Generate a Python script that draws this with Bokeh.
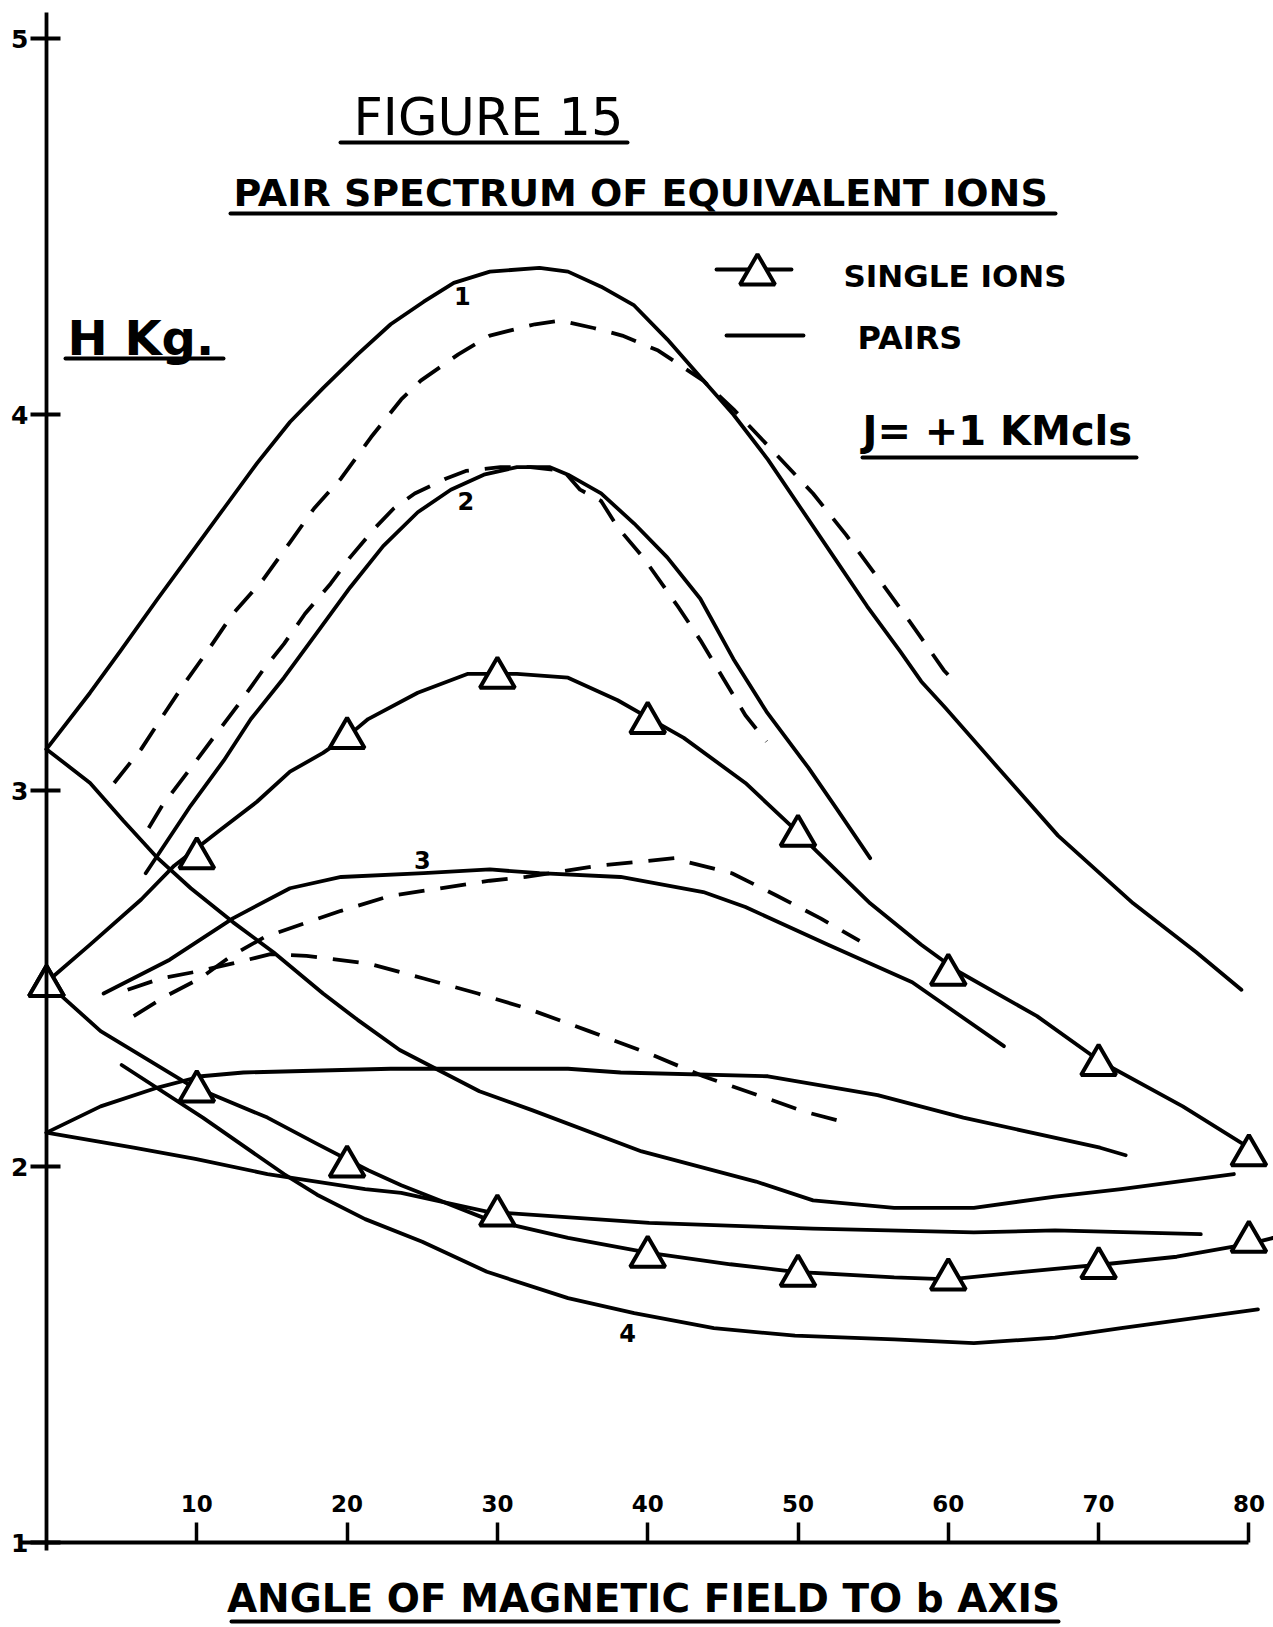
from bokeh.plotting import figure
from bokeh.models import Range1d, LinearAxis, FixedTicker, Label
from bokeh.embed import file_html
from bokeh.resources import INLINE

# ---------------- data ----------------
angle_ticks = [10, 20, 30, 40, 50, 60, 70, 80]
field_ticks = [1, 2, 3, 4, 5]

# single ions: triangle points
single_angles = [0, 10, 20, 30, 40, 50, 60, 70, 80]
single_upper = [2.48, 2.82, 3.14, 3.30, 3.18, 2.88, 2.51, 2.27, 2.03]
single_lower = [2.48, 2.20, 2.00, 1.87, 1.76, 1.71, 1.70, 1.73, 1.80]

# single ions: hand-drawn curves through the triangles
su_angle = [0, 2.9, 6.3, 8.5, 11.4, 14.0, 16.2, 18.4, 20.2, 21.4, 24.7, 28.0, 31.3, 34.7,
            38.0, 40.2, 42.4, 46.5, 49.7, 51.2, 54.8, 58.2, 60.6, 65.9, 70.1, 75.6, 80.0]
su_field = [2.49, 2.59, 2.71, 2.80, 2.89, 2.97, 3.05, 3.10, 3.15, 3.19, 3.26, 3.31, 3.31, 3.30,
            3.24, 3.19, 3.14, 3.02, 2.90, 2.84, 2.70, 2.59, 2.52, 2.40, 2.28, 2.16, 2.05]
sl_angle = [0, 1.1, 3.6, 6.9, 9.4, 11.1, 14.7, 18.0, 21.4, 23.6, 29.3, 34.7, 40.1, 45.5,
            49.8, 56.4, 60.1, 65.0, 70.4, 75.2, 80.1, 81.6]
sl_field = [2.49, 2.45, 2.36, 2.28, 2.22, 2.19, 2.13, 2.06, 1.99, 1.95, 1.86, 1.81, 1.77, 1.74,
            1.72, 1.705, 1.70, 1.72, 1.74, 1.76, 1.795, 1.81]

# pairs, solid curves
p1_angle = [0, 2.9, 4.9, 7.4, 9.6, 11.8, 14.0, 16.2, 18.4, 20.7, 22.9, 25.1, 27.1, 29.5, 32.8,
            34.7, 36.9, 39.1, 41.3, 43.5, 45.7, 48.0, 50.2, 52.4, 54.6, 56.8, 58.2, 59.8, 63.1,
            67.3, 72.3, 76.5, 79.5]
p1_field = [3.11, 3.26, 3.37, 3.51, 3.63, 3.75, 3.87, 3.98, 4.07, 4.16, 4.24, 4.30, 4.35, 4.38, 4.39,
            4.38, 4.34, 4.29, 4.20, 4.10, 4.00, 3.88, 3.75, 3.62, 3.49, 3.37, 3.29, 3.22, 3.07,
            2.88, 2.70, 2.57, 2.47]
p2_angle = [6.6, 9.6, 11.8, 13.6, 15.8, 18.0, 20.2, 22.4, 24.7, 26.9, 29.1, 31.3, 33.5, 34.7,
            36.9, 39.1, 41.3, 43.5, 45.7, 47.9, 50.7, 52.6, 54.8]
p2_field = [2.78, 2.96, 3.08, 3.19, 3.30, 3.42, 3.54, 3.65, 3.74, 3.80, 3.84, 3.86, 3.86, 3.84,
            3.79, 3.71, 3.62, 3.51, 3.35, 3.21, 3.06, 2.95, 2.82]
p3_angle = [3.8, 8.2, 12.4, 16.2, 19.6, 25.1, 29.5, 32.8, 38.2, 43.7, 46.5, 52.0, 54.8, 57.6, 63.7]
p3_field = [2.46, 2.55, 2.66, 2.74, 2.77, 2.78, 2.79, 2.78, 2.77, 2.73, 2.69, 2.59, 2.54, 2.49, 2.32]
p4_angle = [5.0, 10.4, 15.8, 18.0, 21.2, 25.0, 29.3, 34.7, 39.1, 44.4, 49.8, 56.4, 61.7, 67.1,
            71.5, 80.6]
p4_field = [2.27, 2.13, 1.98, 1.925, 1.86, 1.80, 1.72, 1.65, 1.61, 1.57, 1.55, 1.54, 1.53, 1.545,
            1.57, 1.62]
pa_angle = [0, 2.9, 5.1, 7.4, 9.6, 12.4, 15.1, 18.4, 20.7, 23.5, 28.8, 32.3, 39.6, 47.2, 51.0,
            56.4, 61.7, 67.1, 71.5, 79.0]
pa_field = [3.11, 3.02, 2.92, 2.82, 2.74, 2.65, 2.57, 2.46, 2.39, 2.31, 2.20, 2.15, 2.04, 1.96, 1.91,
            1.89, 1.89, 1.92, 1.94, 1.98]
pr_angle = [0, 3.6, 7.4, 10.3, 13.1, 22.9, 34.7, 38.2, 48.0, 55.3, 61.0, 70.1, 71.8]
pr_field = [2.09, 2.16, 2.21, 2.24, 2.25, 2.26, 2.26, 2.25, 2.24, 2.19, 2.13, 2.05, 2.03]
pf_angle = [0, 5.8, 9.9, 14.7, 21.2, 23.6, 29.3, 40.1, 51.0, 61.7, 67.1, 76.8]
pf_field = [2.09, 2.05, 2.02, 1.98, 1.94, 1.93, 1.88, 1.85, 1.835, 1.825, 1.83, 1.82]

# pairs, dashed curves
d1_angle = [4.5, 6.3, 7.6, 9.1, 10.7, 12.4, 14.4, 16.2, 17.8, 19.6, 21.6, 23.6, 24.9, 27.4, 29.5,
            32.5, 34.2, 36.4, 38.3, 40.7, 43.7, 45.8, 48.4, 51.0, 53.2, 55.6, 57.6, 59.7, 60.4]
d1_field = [3.02, 3.11, 3.19, 3.28, 3.37, 3.47, 3.56, 3.66, 3.75, 3.83, 3.94, 4.04, 4.09, 4.16, 4.21,
            4.24, 4.25, 4.23, 4.21, 4.17, 4.09, 4.01, 3.90, 3.79, 3.68, 3.55, 3.44, 3.32, 3.29]
d2_angle = [6.8, 7.7, 9.6, 11.1, 12.8, 14.4, 15.8, 17.2, 18.9, 20.2, 21.9, 23.1, 24.5, 26.6, 27.9,
            30.2, 32.2, 34.4, 35.5, 36.9, 38.0, 39.7, 42.0, 43.5, 45.0, 46.5, 47.9]
d2_field = [2.90, 2.96, 3.06, 3.14, 3.23, 3.32, 3.39, 3.47, 3.55, 3.62, 3.70, 3.75, 3.79, 3.83, 3.85,
            3.86, 3.86, 3.85, 3.80, 3.77, 3.70, 3.62, 3.49, 3.40, 3.30, 3.20, 3.13]
d3_angle = [5.8, 7.8, 10.2, 12.3, 14.5, 17.4, 19.6, 22.9, 26.2, 29.5, 31.9, 36.7, 39.3, 41.8, 42.6,
            45.6, 48.6, 51.5, 54.1]
d3_field = [2.40, 2.45, 2.50, 2.56, 2.61, 2.65, 2.68, 2.72, 2.74, 2.76, 2.77, 2.80, 2.81, 2.82, 2.81,
            2.78, 2.72, 2.66, 2.60]
d4_angle = [5.4, 7.6, 10.2, 12.4, 14.9, 17.3, 21.4, 25.1, 28.7, 32.0, 36.1, 40.1, 43.7, 47.3, 50.5, 52.9]
d4_field = [2.47, 2.50, 2.52, 2.54, 2.565, 2.56, 2.54, 2.50, 2.46, 2.42, 2.36, 2.30, 2.24, 2.19, 2.145, 2.12]

curve_labels = ["1", "2", "3", "4"]
curve_label_angle = [27.66, 27.9, 25.0, 38.66]
curve_label_field = [4.315, 3.77, 2.814, 1.556]

# ---------------- page layout ----------------
W, H = 1273, 1627
PX0, PXD = 46.0, 15.03      # page x of angle 0, pixels per degree
PY1, PYK = 1542.0, 376.0    # page y of 1 kG, pixels per kG


def ax(X):
    return (X - PX0) / PXD


def vy(Y):
    return 1 + (PY1 - Y) / PYK


FONT = "DejaVu Sans"
INK = "black"

p = figure(width=W, height=H, x_range=Range1d(ax(0), ax(W)), y_range=Range1d(vy(H), vy(0)),
           output_backend="svg", toolbar_location=None,
           x_axis_location=None, y_axis_location=None, min_border=0,
           outline_line_color=None, background_fill_color="white", border_fill_color="white")
p.grid.visible = False

# axes drawn at angle 0 and field 1
yax = LinearAxis(fixed_location=0, ticker=FixedTicker(ticks=field_ticks), bounds=(0.98, 5.07))
yax.axis_line_width = 3.8
yax.axis_line_color = INK
yax.major_tick_in = 14
yax.major_tick_out = 16
yax.major_tick_line_width = 3.8
yax.major_tick_line_color = INK
yax.minor_tick_line_color = None
yax.major_label_text_font = FONT
yax.major_label_text_font_style = "bold"
yax.major_label_text_font_size = "25px"
yax.major_label_text_color = INK
yax.major_label_standoff = 2
p.add_layout(yax, "left")

xax = LinearAxis(fixed_location=1, ticker=FixedTicker(ticks=angle_ticks), bounds=(-1.7, 80))
xax.axis_line_width = 3.8
xax.axis_line_color = INK
xax.major_tick_in = 0
xax.major_tick_out = 20
xax.major_tick_line_width = 3.5
xax.major_tick_line_color = INK
xax.minor_tick_line_color = None
xax.major_label_text_font = FONT
xax.major_label_text_font_style = "bold"
xax.major_label_text_font_size = "23px"
xax.major_label_text_color = INK
xax.major_label_standoff = 11
p.add_layout(xax, "above")

LW = 3.8
solid = dict(line_color=INK, line_width=LW, line_cap="round", line_join="round")
dashed = dict(solid, line_dash="26 16", line_cap="butt")

for a, v in [(p1_angle, p1_field), (p2_angle, p2_field), (p3_angle, p3_field),
             (p4_angle, p4_field), (pa_angle, pa_field), (pr_angle, pr_field),
             (pf_angle, pf_field), (su_angle, su_field), (sl_angle, sl_field)]:
    p.line(a, v, **solid)

for a, v in [(d1_angle, d1_field), (d2_angle, d2_field), (d3_angle, d3_field), (d4_angle, d4_field)]:
    p.line(a, v, **dashed)

tri = dict(marker="triangle", size=35, fill_color="white", line_color=INK, line_width=4)
p.scatter(single_angles, single_upper, **tri)
p.scatter(single_angles, single_lower, **tri)

for t, a, v in zip(curve_labels, curve_label_angle, curve_label_field):
    p.add_layout(Label(x=a, y=v, text=t, text_align="center", text_baseline="middle",
                       text_font=FONT, text_font_style="bold", text_font_size="24px",
                       text_color=INK))

# key
p.line([ax(716), ax(791)], [vy(269), vy(269)], **solid)
p.scatter([ax(757)], [vy(274)], **tri)
p.line([ax(726), ax(803)], [vy(335), vy(335)], **solid)


def text(s, X, Y, size, style="bold", align="left"):
    p.add_layout(Label(x=ax(X), y=vy(Y), text=s, text_align=align, text_baseline="middle",
                       text_font=FONT, text_font_style=style, text_font_size=f"{size}px",
                       text_color=INK))


text("FIGURE 15", 353, 117, 51, style="normal")
text("PAIR SPECTRUM OF EQUIVALENT IONS", 233, 192, 38)
text("SINGLE IONS", 843, 275, 31)
text("PAIRS", 857, 337, 32)
text("J= +1 KMcls", 862, 430, 40)
text("H Kg.", 67, 337, 48)
text("ANGLE OF MAGNETIC FIELD TO b AXIS", 643, 1598, 39, align="center")

underlines = [(340, 627, 142), (230, 1055, 213), (862, 1136, 457), (65, 223, 358), (231, 1058, 1621)]
p.segment(x0=[ax(u[0]) for u in underlines], y0=[vy(u[2]) for u in underlines],
          x1=[ax(u[1]) for u in underlines], y1=[vy(u[2]) for u in underlines],
          line_color=INK, line_width=4, line_cap="round")

open("out.html", "w").write(file_html(p, INLINE))
